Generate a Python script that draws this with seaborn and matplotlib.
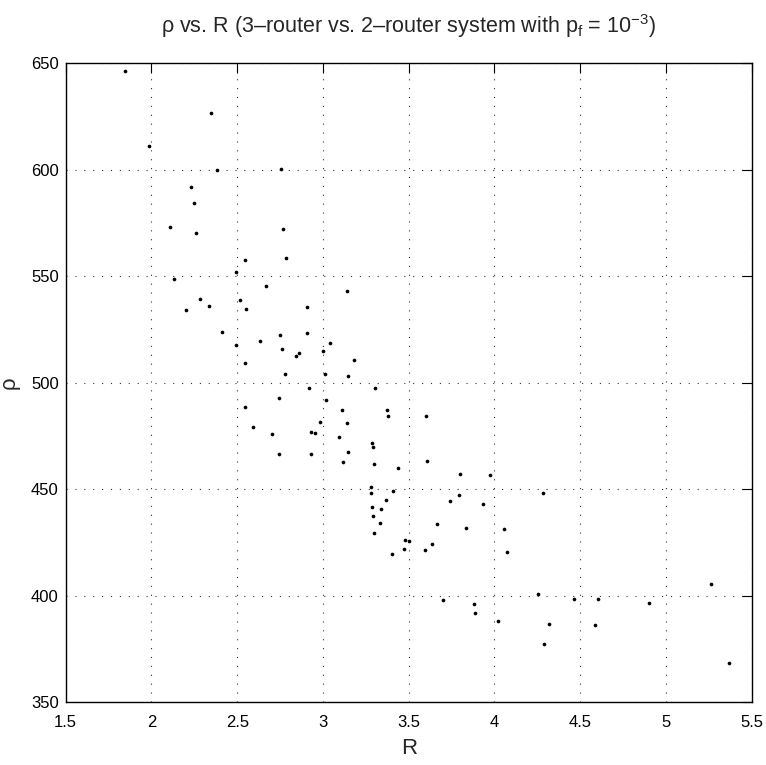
import numpy as np
import pandas as pd
import seaborn as sns
import matplotlib.pyplot as plt

# R values (x) and rho values (y)
R = [1.846, 2.347, 1.986, 2.384, 2.755, 2.232, 2.246, 2.108, 2.767, 2.258,
     2.547, 2.783, 2.493, 2.133, 2.666, 2.283, 2.200, 2.334, 2.518, 2.550,
     2.905, 2.410, 2.491, 2.635, 2.748, 2.909, 2.763, 2.845, 2.859, 2.546,
     2.777, 2.917, 2.746, 2.544, 2.981, 2.590, 2.701, 2.930, 2.954, 2.744,
     2.929, 3.140, 3.043, 2.999, 3.181, 3.010, 3.148, 3.304, 3.020, 3.113,
     3.372, 3.378, 3.599, 3.140, 3.092, 3.284, 3.292, 3.148, 3.115, 3.299,
     3.609, 3.439, 3.797, 3.976, 3.282, 3.278, 3.408, 4.285, 3.795, 3.743,
     3.366, 3.933, 3.284, 3.338, 3.292, 3.334, 3.667, 3.832, 4.057, 3.299,
     3.480, 3.504, 3.474, 3.636, 3.593, 4.071, 3.401, 4.256, 3.702, 3.881,
     3.887, 4.022, 4.320, 4.287, 5.265, 4.462, 4.602, 4.901, 4.588, 5.366]
rho = [646.4, 626.5, 611.3, 599.9, 600.2, 591.8, 584.4, 573.0, 572.3, 570.3,
       557.7, 558.6, 552.0, 548.6, 545.3, 539.5, 534.3, 535.9, 539.0, 534.8,
       535.6, 523.9, 517.9, 519.5, 522.6, 523.4, 515.9, 512.7, 514.1, 509.4,
       504.3, 497.7, 493.0, 488.5, 481.4, 479.4, 476.1, 476.7, 476.3, 466.4,
       466.4, 543.1, 518.8, 515.1, 510.9, 504.1, 503.0, 497.4, 491.8, 487.2,
       487.2, 484.6, 484.4, 481.3, 474.6, 471.9, 469.7, 467.4, 462.8, 461.9,
       463.4, 459.9, 457.2, 456.7, 451.2, 448.1, 449.1, 448.3, 447.5, 444.5,
       445.0, 443.2, 441.8, 440.7, 437.6, 434.2, 433.6, 432.0, 431.2, 429.6,
       426.2, 425.7, 422.1, 424.2, 421.5, 420.4, 419.8, 401.0, 398.2, 396.2,
       392.1, 388.3, 386.8, 377.2, 405.4, 398.5, 398.5, 396.8, 386.4, 368.6]

x_ticks = [1.5, 2, 2.5, 3, 3.5, 4, 4.5, 5, 5.5]
x_labels = ["1.5", "2", "2.5", "3", "3.5", "4", "4.5", "5", "5.5"]
y_ticks = [350, 400, 450, 500, 550, 600, 650]

df = pd.DataFrame({"R": R, "rho": rho})

sns.set_style("white")
plt.rcParams['font.family'] = ['Liberation Sans', 'DejaVu Sans']
plt.rcParams['mathtext.fontset'] = 'custom'
plt.rcParams['mathtext.rm'] = 'Liberation Sans'
plt.rcParams['mathtext.it'] = 'Liberation Sans'

fig = plt.figure(figsize=(7.66, 7.65), dpi=100)
ax = fig.add_axes([0.0858, 0.082, 0.8955, 0.8353])

sns.scatterplot(data=df, x="R", y="rho", ax=ax, color="black", s=7,
                linewidth=0, zorder=3)

ax.set_xlim(1.5, 5.5)
ax.set_ylim(350, 650)
ax.set_xticks(x_ticks)
ax.set_xticklabels(x_labels)
ax.set_yticks(y_ticks)
ax.grid(True, color="#333333", linestyle=(0, (1, 7)), linewidth=0.8)
ax.tick_params(direction="in", length=7, width=0.8, labelsize=12,
               top=True, right=True, colors="black")
ax.tick_params(axis="x", pad=9)
ax.tick_params(axis="y", pad=5)
for sp in ax.spines.values():
    sp.set_visible(True)
    sp.set_color("black")
    sp.set_linewidth(1.0)

ax.set_xlabel("R", fontsize=16, labelpad=6)
ax.set_ylabel("ρ", fontsize=16, labelpad=8)
ax.set_title("ρ vs. R (3–router vs. 2–router system with $p_f$ = 10$^{-3}$)",
             fontsize=15.5, pad=22)

fig.savefig("out.png", dpi=100)
